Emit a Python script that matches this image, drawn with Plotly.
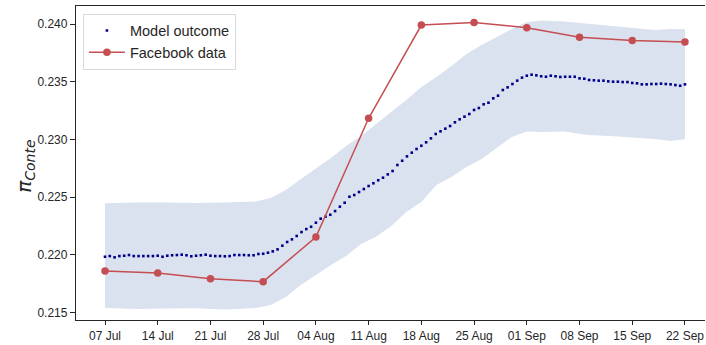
import pandas as pd
import plotly.graph_objects as go

# ---------------- data ----------------
start_date = "2019-07-07"
end_date = "2019-09-22"

model_outcome = [
    0.21983, 0.21989, 0.21978, 0.21989, 0.21992, 0.21998, 0.21989, 0.21989, 0.21989, 0.21989,
    0.21989, 0.21992, 0.21983, 0.21992, 0.21996, 0.21998, 0.22001, 0.21996, 0.21987, 0.21992,
    0.21996, 0.22001, 0.21992, 0.21989, 0.21989, 0.21987, 0.21989, 0.21998, 0.21998, 0.21998,
    0.21996, 0.21996, 0.22007, 0.22009, 0.22018, 0.22030, 0.22047, 0.22079, 0.22111, 0.22134,
    0.22163, 0.22197, 0.22223, 0.22243, 0.22278, 0.22313, 0.22330, 0.22347, 0.22379, 0.22417,
    0.22451, 0.22503, 0.22518, 0.22544, 0.22570, 0.22596, 0.22620, 0.22646, 0.22668, 0.22697,
    0.22726, 0.22778, 0.22815, 0.22853, 0.22885, 0.22917, 0.22945, 0.22975, 0.23009, 0.23047,
    0.23070, 0.23093, 0.23116, 0.23148, 0.23174, 0.23197, 0.23220, 0.23255, 0.23272, 0.23304,
    0.23318, 0.23356, 0.23379, 0.23428, 0.23451, 0.23480, 0.23509, 0.23535, 0.23552, 0.23561,
    0.23555, 0.23547, 0.23543, 0.23552, 0.23547, 0.23541, 0.23543, 0.23543, 0.23543, 0.23529,
    0.23526, 0.23515, 0.23512, 0.23509, 0.23509, 0.23503, 0.23500, 0.23500, 0.23497, 0.23497,
    0.23489, 0.23486, 0.23477, 0.23477, 0.23480, 0.23480, 0.23483, 0.23480, 0.23477, 0.23471,
    0.23465, 0.23477,
]

band_days = [0, 4, 8, 12, 16, 20, 22, 24, 26, 28, 30, 32, 34, 36, 38, 40, 42, 44, 46, 48,
             50, 52, 54, 56, 58, 61, 64, 67, 70, 73, 75, 77]
band_upper = [0.22446, 0.22453, 0.22453, 0.22449, 0.22453, 0.22462, 0.22492, 0.22561, 0.22657,
              0.22748, 0.22839, 0.22943, 0.23029, 0.23133, 0.23237, 0.23341, 0.23454, 0.23541,
              0.23636, 0.23740, 0.23818, 0.23887, 0.23957, 0.24017, 0.24030, 0.24022, 0.24004,
              0.23987, 0.23965, 0.23948, 0.23957, 0.23954]
band_lower = [0.21541, 0.21530, 0.21535, 0.21536, 0.21526, 0.21539, 0.21565, 0.21634, 0.21738,
              0.21825, 0.21912, 0.21989, 0.22093, 0.22157, 0.22249, 0.22371, 0.22457, 0.22605,
              0.22674, 0.22761, 0.22830, 0.22925, 0.23021, 0.23068, 0.23064, 0.23068, 0.23038,
              0.23029, 0.23016, 0.23003, 0.22986, 0.23001]

facebook_dates = ["2019-07-07", "2019-07-14", "2019-07-21", "2019-07-28", "2019-08-04",
                  "2019-08-11", "2019-08-18", "2019-08-25", "2019-09-01", "2019-09-08",
                  "2019-09-15", "2019-09-22"]
facebook_data = [0.21860, 0.21842, 0.21793, 0.21767, 0.22154, 0.23183, 0.23991, 0.24014,
                 0.23968, 0.23885, 0.23856, 0.23844]

x_tick_labels = ["07 Jul", "14 Jul", "21 Jul", "28 Jul", "04 Aug", "11 Aug", "18 Aug",
                 "25 Aug", "01 Sep", "08 Sep", "15 Sep", "22 Sep"]
y_tick_values = [0.215, 0.220, 0.225, 0.230, 0.235, 0.240]

# ---------------- figure ----------------
model_x = pd.date_range(start_date, end_date, periods=len(model_outcome))
band_x = [pd.Timestamp(start_date) + pd.Timedelta(days=d) for d in band_days]
fb_x = pd.to_datetime(facebook_dates)

band_color = "rgb(218,226,239)"
ink = "#262626"

fig = go.Figure()
fig.add_trace(go.Scatter(x=band_x, y=band_lower, mode="lines", line=dict(width=0),
                         showlegend=False, hoverinfo="skip"))
fig.add_trace(go.Scatter(x=band_x, y=band_upper, mode="lines", line=dict(width=0),
                         fill="tonexty", fillcolor=band_color, showlegend=False,
                         hoverinfo="skip"))
fig.add_trace(go.Scatter(x=model_x, y=model_outcome, mode="markers", name="Model outcome",
                         marker=dict(symbol="square", size=2.6, color="#00008B",
                                     line=dict(width=0))))
fig.add_trace(go.Scatter(x=fb_x, y=facebook_data, mode="lines+markers", name="Facebook data",
                         line=dict(color="#c44e52", width=1.5),
                         marker=dict(size=7.5, color="#c44e52")))

x_lo = pd.Timestamp(start_date) - pd.Timedelta(days=3.85)
x_hi = pd.Timestamp(end_date) + pd.Timedelta(days=2.66)

fig.update_layout(
    width=706, height=345,
    margin=dict(l=76, r=1, t=6, b=25, autoexpand=False),
    paper_bgcolor="white", plot_bgcolor="white",
    font=dict(family="Liberation Sans, Arial, sans-serif", size=12, color=ink),
    showlegend=True,
    legend=dict(x=0.011, y=0.976, xanchor="left", yanchor="top",
                bgcolor="white", bordercolor="#d9d9d9", borderwidth=1,
                font=dict(size=14.5, color=ink), tracegroupgap=0,
                traceorder="normal", itemwidth=36),
    xaxis=dict(range=[x_lo, x_hi], tickvals=fb_x, ticktext=x_tick_labels,
               showgrid=False, zeroline=False, showline=True, linecolor=ink,
               linewidth=1.25, mirror=True, ticks="outside", ticklen=4,
               tickwidth=1.1, tickcolor=ink, tickfont=dict(size=12),
               automargin=False),
    yaxis=dict(range=[0.21435, 0.24156], tickvals=y_tick_values, tickformat=".3f",
               showgrid=False, zeroline=False, showline=True, linecolor=ink,
               linewidth=1.25, ticks="outside", ticklen=5, tickwidth=1.1,
               tickcolor=ink, tickfont=dict(size=12), automargin=False),
)

fig.add_annotation(
    text="<i>π</i><sub><i>Conte</i></sub>",
    xref="paper", yref="paper",
    x=(26 - 76) / 614, y=0.5 - (166 - 163) / 314,
    xanchor="center", yanchor="middle", textangle=-90, showarrow=False,
    font=dict(family="DejaVu Sans", size=20, color=ink),
)

fig.write_html("out.html")
